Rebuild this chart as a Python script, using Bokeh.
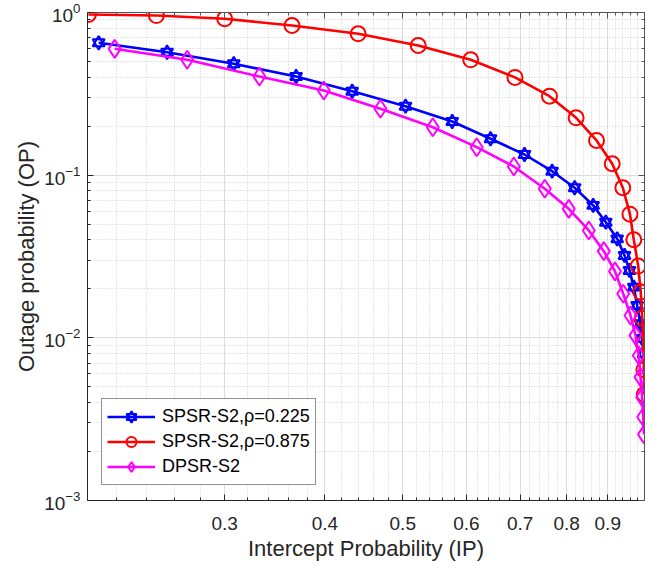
from bokeh.plotting import figure
from bokeh.models import (FixedTicker, LogAxis, Range1d, PrintfTickFormatter,
                          CustomJSTickFormatter)
from bokeh.embed import file_html
from bokeh.resources import INLINE

# ---- data ----
ip_spsr_0225 = [0.2091, 0.2544, 0.3080, 0.3683, 0.4325, 0.5040, 0.5762, 0.6431, 0.7088, 0.7673,
                0.8185, 0.8631, 0.8950, 0.9247, 0.9443, 0.9579, 0.9698, 0.9792, 0.9886, 0.9929, 0.9972]
op_spsr_0225 = [0.651, 0.570, 0.484, 0.404, 0.328, 0.2655, 0.2138, 0.1674, 0.1340, 0.1058,
                0.0837, 0.0652, 0.0514, 0.0406, 0.0321, 0.02596, 0.0205, 0.0158, 0.0122, 0.00992, 0.00798]

ip_spsr_0875 = [0.2030, 0.2467, 0.3001, 0.3640, 0.4400, 0.5227, 0.6076, 0.6898, 0.7615, 0.8220,
                0.8715, 0.9116, 0.9397, 0.9592, 0.9698, 0.9822, 0.9894, 0.9934, 0.9963, 0.9982, 0.9992]
op_spsr_0875 = [0.972, 0.958, 0.915, 0.832, 0.740, 0.627, 0.512, 0.399, 0.306, 0.2253,
                0.1634, 0.1175, 0.0837, 0.0576, 0.0401, 0.0276, 0.0191, 0.0132, 0.0092, 0.00637, 0.00449]

ip_dpsr = [0.2189, 0.2695, 0.3315, 0.3987, 0.4690, 0.5450, 0.6181, 0.6875, 0.7514, 0.8048,
           0.8524, 0.8899, 0.9189, 0.9408, 0.9607, 0.9745, 0.9838, 0.9886, 0.9934, 0.9963, 0.9986]
op_dpsr = [0.598, 0.512, 0.404, 0.3316, 0.2559, 0.1972, 0.1486, 0.1131, 0.0825, 0.0621,
           0.0457, 0.0341, 0.0256, 0.01866, 0.01373, 0.01035, 0.00779, 0.00573, 0.00432, 0.00326, 0.00255]

labels = ["SPSR-S2,\u03c1=0.225", "SPSR-S2,\u03c1=0.875", "DPSR-S2"]
x_ticks = [0.3, 0.4, 0.5, 0.6, 0.7, 0.8, 0.9]
y_ticks = [1e-3, 1e-2, 1e-1, 1.0]
x_minor = [round(0.2 + 0.02 * i, 2) for i in range(41)]
y_minor = [m * 10.0 ** e for e in (-3, -2, -1) for m in range(2, 10)]

FONT = "Liberation Sans"
TXT = "#262626"

p = figure(width=658, height=572, x_axis_type="log", y_axis_type="log",
           x_range=Range1d(0.2025, 1.0), y_range=Range1d(1e-3, 1.0),
           output_backend="svg", toolbar_location=None,
           min_border_left=87, min_border_right=14, min_border_top=12, min_border_bottom=72)
p.outline_line_color = None
p.background_fill_color = "white"
p.border_fill_color = "white"

xt = FixedTicker(ticks=x_ticks, minor_ticks=x_minor)
yt = FixedTicker(ticks=y_ticks, minor_ticks=y_minor)

for ax in (p.xaxis[0], p.yaxis[0]):
    ax.major_tick_in = 6
    ax.major_tick_out = 0
    ax.minor_tick_in = 3
    ax.minor_tick_out = 0
    ax.axis_line_color = TXT
    ax.major_tick_line_color = TXT
    ax.minor_tick_line_color = TXT
    ax.major_label_text_font = FONT
    ax.major_label_text_font_size = "19px"
    ax.major_label_text_color = TXT
    ax.axis_label_text_font = FONT
    ax.axis_label_text_font_size = "22px"
    ax.axis_label_text_font_style = "normal"
    ax.axis_label_text_color = TXT

p.xaxis.ticker = xt
p.yaxis.ticker = yt
p.xaxis.formatter = PrintfTickFormatter(format="%.1f")
p.xaxis.axis_label = "Intercept Probability (IP)"
p.yaxis.axis_label = "Outage probability (OP)"
p.xaxis.major_label_standoff = 16
p.yaxis.major_label_standoff = 7
p.xaxis.axis_label_standoff = 3
p.yaxis.axis_label_standoff = 2

p.xgrid.ticker = xt
p.ygrid.ticker = yt
for g in (p.xgrid[0], p.ygrid[0]):
    g.grid_line_color = "#dcdcdc"
    g.grid_line_width = 1
    g.minor_grid_line_color = "#cdcdcd"
    g.minor_grid_line_dash = "1 2"
    g.minor_grid_line_width = 1

blank = CustomJSTickFormatter(code="return ''")
top = LogAxis(ticker=xt, formatter=blank, major_label_text_font_size="0px", major_label_standoff=0,
              major_tick_in=6, major_tick_out=0, minor_tick_in=3, minor_tick_out=0,
              axis_line_color="#555555", major_tick_line_color="#555555", minor_tick_line_color="#555555")
right = LogAxis(ticker=yt, formatter=blank, major_label_text_font_size="0px", major_label_standoff=0,
                major_tick_in=6, major_tick_out=0, minor_tick_in=3, minor_tick_out=0,
                axis_line_color="#555555", major_tick_line_color="#555555", minor_tick_line_color="#555555")
p.add_layout(top, "above")
p.add_layout(right, "right")

LW = 2.6
# series 1: blue hexagram
p.line(ip_spsr_0225, op_spsr_0225, line_color="#0000ff", line_width=LW, legend_label=labels[0])
p.scatter(ip_spsr_0225, op_spsr_0225, marker="triangle", size=12, fill_color=None,
          line_color="#0000ff", line_width=2, legend_label=labels[0])
p.scatter(ip_spsr_0225, op_spsr_0225, marker="inverted_triangle", size=12, fill_color=None,
          line_color="#0000ff", line_width=2, legend_label=labels[0])
# series 2: red circles
p.line(ip_spsr_0875, op_spsr_0875, line_color="#ff0000", line_width=LW, legend_label=labels[1])
p.scatter(ip_spsr_0875, op_spsr_0875, marker="circle", size=15, fill_color=None,
          line_color="#ff0000", line_width=2, legend_label=labels[1])
# series 3: magenta diamonds
p.line(ip_dpsr, op_dpsr, line_color="#ff00ff", line_width=LW, legend_label=labels[2])
p.scatter(ip_dpsr, op_dpsr, marker="diamond", size=18, fill_color=None,
          line_color="#ff00ff", line_width=2, legend_label=labels[2])

lg = p.legend[0]
lg.location = (14, 15)
lg.padding = 5
lg.spacing = 0
lg.margin = 0
lg.label_height = 25
lg.glyph_height = 25
lg.glyph_width = 48
lg.label_standoff = 7
lg.label_text_font = FONT
lg.label_text_font_size = "18px"
lg.label_text_color = "black"
lg.border_line_color = TXT
lg.border_line_width = 1
lg.background_fill_color = "white"
lg.background_fill_alpha = 1.0

open("out.html", "w").write(file_html(p, INLINE))
